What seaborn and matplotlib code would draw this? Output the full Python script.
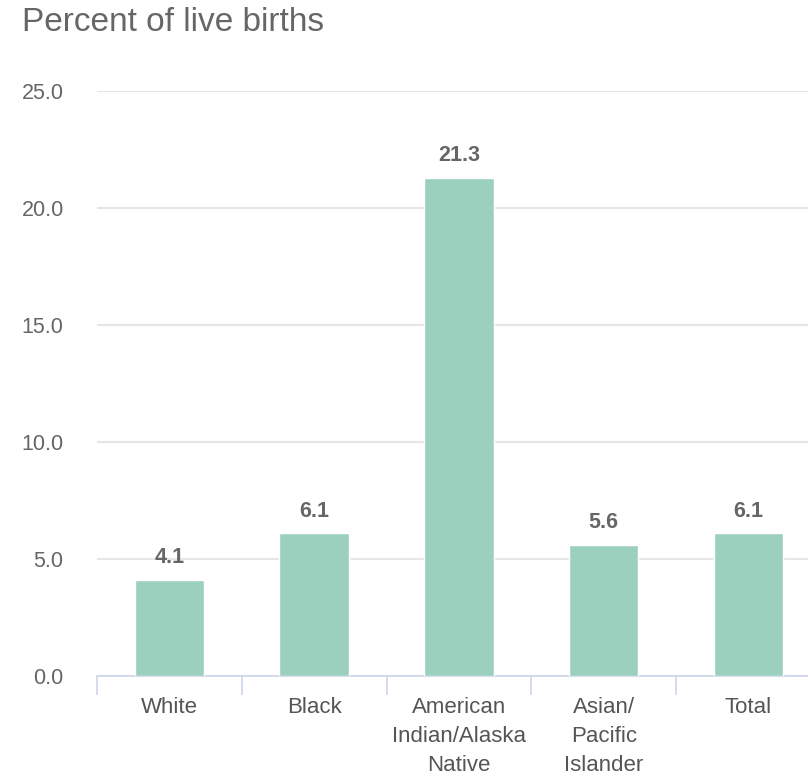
import numpy as np
import pandas as pd
import seaborn as sns
import matplotlib.pyplot as plt
from matplotlib.ticker import FixedLocator, FormatStrFormatter

# Chart data
categories = ["White", "Black", "American\nIndian/Alaska\nNative", "Asian/\nPacific\nIslander", "Total"]
values = [4.1, 6.1, 21.3, 5.6, 6.1]
y_ticks = [0, 5, 10, 15, 20, 25]

df = pd.DataFrame({"group": categories, "pct": values})

sns.set_theme(style="white")
plt.rcParams['font.family'] = ['Liberation Sans', 'DejaVu Sans']

fig = plt.figure(figsize=(8.08, 7.78), dpi=100)
# axes run a little past the right edge, as in the reference
ax = fig.add_axes([0.12, 0.131, 0.896, 0.752])

sns.barplot(data=df, x="group", y="pct", color="#9bd0bf", width=0.48,
            saturation=1, ax=ax, zorder=3)

ax.set_ylim(0, 25)
ax.set_xlim(-0.5, len(categories) - 0.5)
ax.set_yticks(y_ticks)
ax.yaxis.set_major_formatter(FormatStrFormatter("%.1f"))
ax.grid(axis="y", color="#e6e6e6", linewidth=1.5, zorder=0)
ax.set_axisbelow(True)

for s in ["left", "right", "top"]:
    ax.spines[s].set_visible(False)
ax.spines["bottom"].set_color("#ccd6eb")
ax.spines["bottom"].set_linewidth(1.2)

ax.tick_params(axis="y", length=0, pad=24, labelsize=15.5, labelcolor="#666666")
ax.tick_params(axis="x", which="major", length=0, pad=15, labelsize=16,
               labelcolor="#555555")
ax.xaxis.set_minor_locator(FixedLocator(np.arange(-0.5, len(categories), 1.0)))
ax.tick_params(axis="x", which="minor", bottom=True, length=14, width=1.2,
               color="#ccd6eb", direction="out")
for lbl in ax.get_xticklabels():
    lbl.set_linespacing(1.5)
    lbl.set_verticalalignment("top")

# value labels
for i, v in enumerate(values):
    ax.annotate(f"{v:.1f}", (i, v), xytext=(0, 16), textcoords="offset points",
                ha="center", va="center", fontsize=15.5, fontweight="bold",
                color="#666666")

ax.set_xlabel("")
ax.set_ylabel("")
fig.text(0.027, 0.971, "Percent of live births", fontsize=24, color="#666666",
         ha="left", va="center")

plt.savefig("out.png", dpi=100)
plt.close()
